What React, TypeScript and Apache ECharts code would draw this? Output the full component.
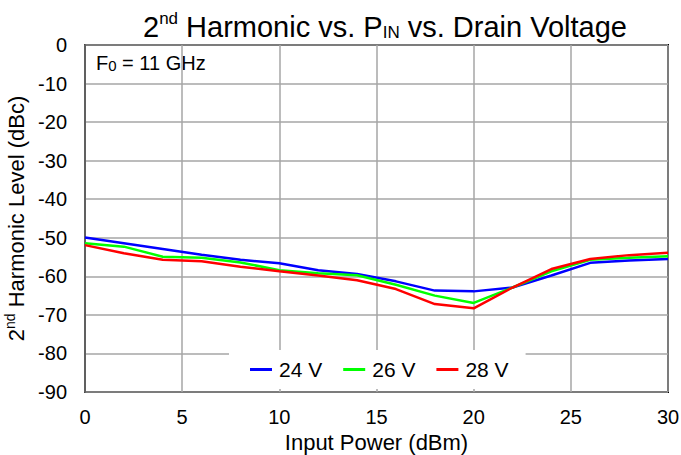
import React, { useEffect, useRef } from "react";
import * as echarts from "echarts";

const inputPower = [0, 2, 4, 6, 8, 10, 12, 14, 16, 18, 20, 22, 24, 26, 28, 30];
const v24 = [-49.9, -51.4, -52.9, -54.4, -55.7, -56.6, -58.4, -59.4, -61.3, -63.7, -63.9, -62.9, -59.8, -56.5, -55.9, -55.5];
const v26 = [-51.4, -52.3, -54.9, -55.2, -56.4, -58.4, -59.2, -59.7, -62.2, -65.0, -66.9, -62.9, -58.7, -55.7, -55.2, -54.8];
const v28 = [-51.9, -54.0, -55.7, -56.1, -57.5, -58.7, -59.8, -61.0, -63.3, -67.2, -68.3, -62.9, -58.1, -55.5, -54.5, -53.9];
const seriesNames = ["24 V", "26 V", "28 V"];
const seriesColors = ["#0000ff", "#00ff00", "#ff0000"];

const FONT = "'Liberation Sans', Arial, sans-serif";

export default function App() {
  const ref = useRef<HTMLDivElement>(null);
  useEffect(() => {
    if (!ref.current) return;
    const chart = echarts.init(ref.current, null, { renderer: "svg" });
    const datasets = [v24, v26, v28];
    chart.setOption({
      animation: false,
      backgroundColor: "#ffffff",
      textStyle: { fontFamily: FONT },
      title: {
        text: "{a|2}{sup|nd}{a| Harmonic vs. P}{sub|IN}{a| vs. Drain Voltage}",
        left: 380,
        textAlign: "center",
        top: 2,
        textStyle: {
          fontWeight: "normal",
          rich: {
            a: { fontSize: 29, fontWeight: "normal", fontFamily: FONT, color: "#000", lineHeight: 34, verticalAlign: "bottom" },
            sup: { fontSize: 17, fontWeight: "normal", fontFamily: FONT, color: "#000", lineHeight: 34, verticalAlign: "top", padding: [3, 0, 0, 0] },
            sub: { fontSize: 17, fontWeight: "normal", fontFamily: FONT, color: "#000", lineHeight: 34, verticalAlign: "bottom", padding: [0, 0, 0, 0] },
          },
        },
      },
      grid: {
        left: 85,
        right: 13,
        top: 45,
        bottom: 63,
        outerBoundsMode: "none",
        containLabel: false,
        show: true,
        borderColor: "#000",
        borderWidth: 2,
        backgroundColor: "transparent",
      },
      legend: {
        data: seriesNames,
        left: 229,
        top: 350,
        padding: [9, 17, 9, 21],
        backgroundColor: "#ffffff",
        itemGap: 21,
        itemWidth: 22,
        itemHeight: 3,
        icon: "rect",
        textStyle: { fontSize: 21, fontFamily: FONT, color: "#000", padding: [0, 0, 0, 2] },
      },
      xAxis: {
        type: "value",
        min: 0,
        max: 30,
        interval: 5,
        name: "Input Power (dBm)",
        nameLocation: "middle",
        nameGap: 37,
        nameTextStyle: { fontSize: 22, fontFamily: FONT, color: "#000" },
        axisLine: { show: false },
        axisTick: { show: false },
        axisLabel: { fontSize: 20, fontFamily: FONT, color: "#000", margin: 15 },
        splitLine: { show: true, lineStyle: { color: "#a6a6a6", width: 1.5 } },
      },
      yAxis: {
        type: "value",
        min: -90,
        max: 0,
        interval: 10,
        name: "{a|2}{sup|nd}{a| Harmonic Level (dBc)}",
        nameLocation: "middle",
        nameGap: 44,
        nameTextStyle: {
          rich: {
            a: { fontSize: 22, fontFamily: FONT, color: "#000", lineHeight: 24, verticalAlign: "bottom" },
            sup: { fontSize: 14, fontFamily: FONT, color: "#000", lineHeight: 24, verticalAlign: "top" },
          },
        },
        axisLine: { show: true, lineStyle: { color: "#606060", width: 2 } },
        axisTick: { show: false },
        axisLabel: { fontSize: 20, fontFamily: FONT, color: "#000", margin: 18 },
        splitLine: { show: true, lineStyle: { color: "#a6a6a6", width: 1.5 } },
      },
      graphic: [
        {
          type: "text",
          left: 96,
          top: 53,
          style: {
            text: "{a|F}{sub|0}{a| = 11 GHz}",
            rich: {
              a: { fontSize: 20, fontFamily: FONT, fill: "#000", lineHeight: 24, verticalAlign: "bottom" },
              sub: { fontSize: 15, fontFamily: FONT, fill: "#000", lineHeight: 24, verticalAlign: "bottom" },
            },
          },
        },
      ],
      series: datasets.map((d, i) => ({
        name: seriesNames[i],
        type: "line",
        data: inputPower.map((x, j) => [x, d[j]]),
        showSymbol: false,
        symbol: "none",
        lineStyle: { color: seriesColors[i], width: 2.5 },
        itemStyle: { color: seriesColors[i] },
        z: 3 + i,
      })),
    });
    return () => chart.dispose();
  }, []);
  return <div ref={ref} style={{ width: 681, height: 455, position: "absolute", left: 0, top: 0 }} />;
}
